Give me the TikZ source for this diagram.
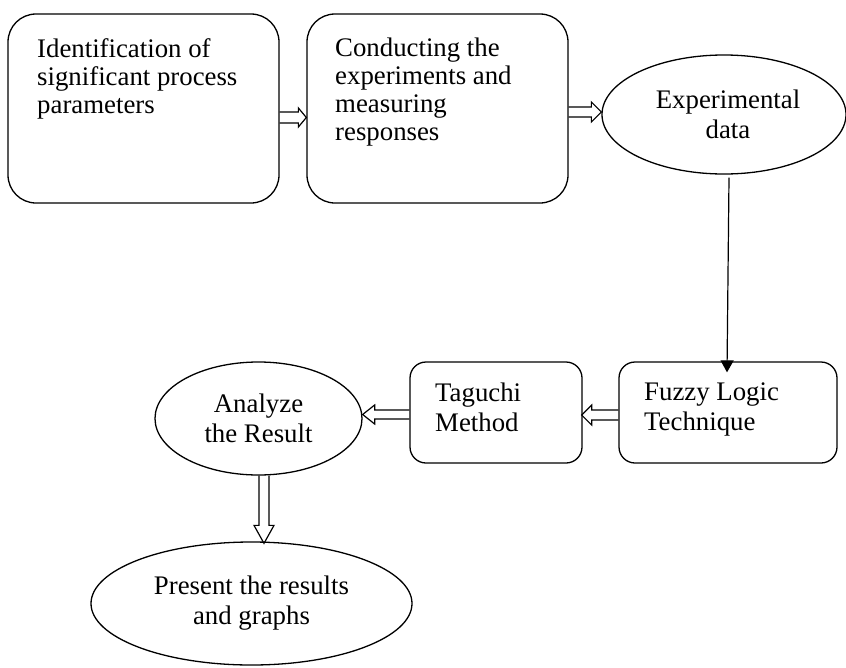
\documentclass[tikz,border=0pt]{standalone}
\usepackage{fontspec}
\setmainfont{Liberation Serif}
\usetikzlibrary{arrows.meta,calc,shapes.geometric}
\tikzset{
  txt/.style={font=\fontsize{26.8pt}{30pt}\selectfont},
  tighttxt/.style={font=\fontsize{26.8pt}{27.7pt}\selectfont},
  bigbox/.style={draw, line width=1.3pt, rounded corners=28pt, inner sep=0pt},
  smallbox/.style={draw, line width=1.3pt, rounded corners=16pt, inner sep=0pt},
  oval/.style={draw, ellipse, line width=1.3pt, inner sep=0pt, txt, align=center},
  boxtext/.style={txt, align=left, anchor=base west, inner sep=0pt},
  blockarrow/.style={draw, line width=1.2pt, line join=miter},
  thinarrow/.style={line width=1.2pt, -{Triangle[length=12pt,width=13pt]}}
}
\newcommand\hollowarrow[5]{%
  \draw[blockarrow] let \p1=(#1), \p2=(#2),
    \n1={atan2(\y2-\y1,\x2-\x1)}, \n2={veclen(\x2-\x1,\y2-\y1)} in
    [shift={(\p1)}, rotate=\n1]
    (0,#3) -- ({\n2-#5},#3) -- ({\n2-#5},#4) -- (\n2,0)
    -- ({\n2-#5},-#4) -- ({\n2-#5},-#3) -- (0,-#3);}
\begin{document}
\begin{tikzpicture}[x=1pt,y=-1pt]
\useasboundingbox (0,0) rectangle (846,667);
% top row (text nodes are anchored at the baseline of their last line)
\node[bigbox, minimum width=271pt, minimum height=189pt] (b1) at (143.5,108.5) {};
\node[boxtext, tighttxt] (b1t) at (37,113) {Identification of\\significant process\\parameters};
\node[bigbox, minimum width=261pt, minimum height=189pt] (b2) at (437.5,108.5) {};
\node[boxtext, tighttxt] (b2t) at (335,140) {Conducting the\\experiments and\\measuring\\responses};
\node[oval, minimum width=244pt, minimum height=119pt] (exp) at (724,114.5) {\hspace*{8pt}Experimental\\\hspace*{8pt}data};
% middle row
\node[smallbox, minimum width=218pt, minimum height=101pt] (fuzzy) at (728,412.5) {};
\node[boxtext] (fuzzyt) at (644,430) {Fuzzy Logic\\Technique};
\node[smallbox, minimum width=172pt, minimum height=101pt] (tag) at (496,412.5) {};
\node[boxtext] (tagt) at (435,431) {Taguchi\\Method};
\node[oval, minimum width=207pt, minimum height=113pt] (ana) at (258.5,418.5) {Analyze\\the Result};
% bottom
\node[oval, minimum width=321pt, minimum height=123pt] (pres) at (251.5,603.5) {Present the results\\and graphs};
% connectors
\coordinate (a1s) at ([yshift=-9pt]b1.east);
\coordinate (a1e) at (a1s -| b2.west);
\hollowarrow{a1s}{a1e}{5.5}{9.5}{8}
\coordinate (a2s) at ([yshift=-3.5pt]b2.east);
\coordinate (a2e) at (a2s -| exp.west);
\hollowarrow{a2s}{a2e}{5}{10}{10}
\coordinate (a3s) at ([yshift=-2.5pt]fuzzy.west);
\coordinate (a3e) at ([xshift=-1pt]a3s -| tag.east);
\hollowarrow{a3s}{a3e}{5}{10}{10}
\coordinate (a4s) at ([yshift=-2pt]tag.west);
\coordinate (a4e) at (a4s -| ana.east);
\hollowarrow{a4s}{a4e}{4.5}{9.5}{12}
\coordinate (a5s) at ([xshift=5.5pt]ana.south);
\coordinate (a5e) at ([yshift=-2pt]a5s |- pres.north);
\hollowarrow{a5s}{a5e}{5}{10}{18}
\coordinate (t1s) at ([xshift=5pt,yshift=-3pt]exp.south);
\coordinate (t1e) at ([xshift=-1pt,yshift=-11pt]fuzzy.north);
\draw[thinarrow] (t1s) -- (t1e);
\end{tikzpicture}
\end{document}
